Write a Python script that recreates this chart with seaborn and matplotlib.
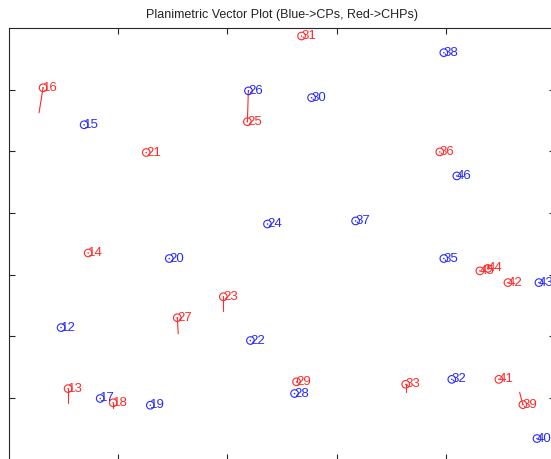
import matplotlib
matplotlib.use("Agg")
import matplotlib.pyplot as plt
import numpy as np
import pandas as pd
import seaborn as sns

# Control points (CPs) - plotted in blue
cp_ids = [15, 26, 38, 30, 46, 24, 37, 20, 35, 43, 12, 22, 17, 19, 28, 32, 40]
cp_x = [0.688, 2.193, 3.982, 2.771, 4.101, 2.367, 3.174, 1.468, 3.982, 4.853,
        0.477, 2.211, 0.835, 1.294, 2.615, 4.055, 4.835]
cp_y = [5.43, 5.98, 6.60, 5.87, 4.60, 3.82, 3.87, 3.26, 3.26, 2.87,
        2.14, 1.93, 0.99, 0.88, 1.07, 1.30, 0.34]

# Check points (CHPs) - plotted in red, each with its planimetric error vector
chp_ids = [31, 16, 25, 21, 36, 14, 45, 44, 42, 23, 27, 13, 18, 29, 33, 41, 39]
chp_x = [2.679, 0.312, 2.183, 1.257, 3.945, 0.725, 4.312, 4.385, 4.569, 1.963,
         1.541, 0.541, 0.954, 2.633, 3.633, 4.486, 4.706]
chp_y = [6.87, 6.03, 5.48, 4.98, 4.99, 3.35, 3.06, 3.10, 2.87, 2.64,
         2.30, 1.15, 0.92, 1.26, 1.22, 1.30, 0.89]
chp_dx = [0.0, -0.037, 0.009, 0.0, 0.0, 0.0, 0.0, 0.0, 0.0, 0.0,
          0.009, 0.0, 0.0, 0.0, 0.0, 0.0, -0.03]
chp_dy = [0.0, -0.405, 0.50, 0.0, 0.0, 0.0, 0.0, 0.06, 0.0, -0.23,
          -0.26, -0.23, -0.08, 0.07, -0.13, 0.0, 0.20]

df = pd.DataFrame({
    "id": cp_ids + chp_ids,
    "x": cp_x + chp_x,
    "y": cp_y + chp_y,
    "kind": ["CP"] * len(cp_ids) + ["CHP"] * len(chp_ids),
})
palette = {"CP": "#2a2aff", "CHP": "#ff2a2a"}

sns.set_style("ticks")
plt.rcParams["font.family"] = ["Liberation Sans", "DejaVu Sans"]

fig = plt.figure(figsize=(5.51, 4.59), dpi=100)
fig.patch.set_facecolor("white")
ax = fig.add_axes([9 / 551, -0.5 / 459, 546 / 551, 431.5 / 459])

# error vectors for check points
for x0, y0, dx, dy in zip(chp_x, chp_y, chp_dx, chp_dy):
    if dx or dy:
        ax.plot([x0, x0 + dx], [y0, y0 + dy], color=palette["CHP"], lw=0.8, zorder=2)

sns.scatterplot(data=df, x="x", y="y", hue="kind", palette=palette,
                marker="o", s=30, linewidth=0.8, legend=False, ax=ax, zorder=3)
coll = ax.collections[-1]
coll.set_edgecolors(coll.get_facecolors())
coll.set_facecolors("none")
# centre dots
ax.scatter(df["x"], df["y"], s=1.2, c=df["kind"].map(palette), zorder=4, linewidths=0)

for _, r in df.iterrows():
    ax.text(r["x"] - 0.004, r["y"], str(r["id"]), color=palette[r["kind"]],
            fontsize=9.5, ha="left", va="center", zorder=5)

ax.set_xlim(0, 5)
ax.set_ylim(0, 7)
ax.set_xticks([1, 2, 3, 4])
ax.set_yticks([1, 2, 3, 4, 5, 6])
ax.set_xticklabels([])
ax.set_yticklabels([])
ax.set_xlabel("")
ax.set_ylabel("")
ax.tick_params(direction="in", length=4, width=0.8, color="#262626",
               top=True, right=True, bottom=True, left=True)
for sp in ax.spines.values():
    sp.set_visible(True)
    sp.set_color("#262626")
    sp.set_linewidth(0.8)
ax.set_facecolor("white")

ax.set_title("Planimetric Vector Plot (Blue->CPs, Red->CHPs)", fontsize=9,
             color="#222222", pad=7)

fig.savefig("out.png", dpi=100)
